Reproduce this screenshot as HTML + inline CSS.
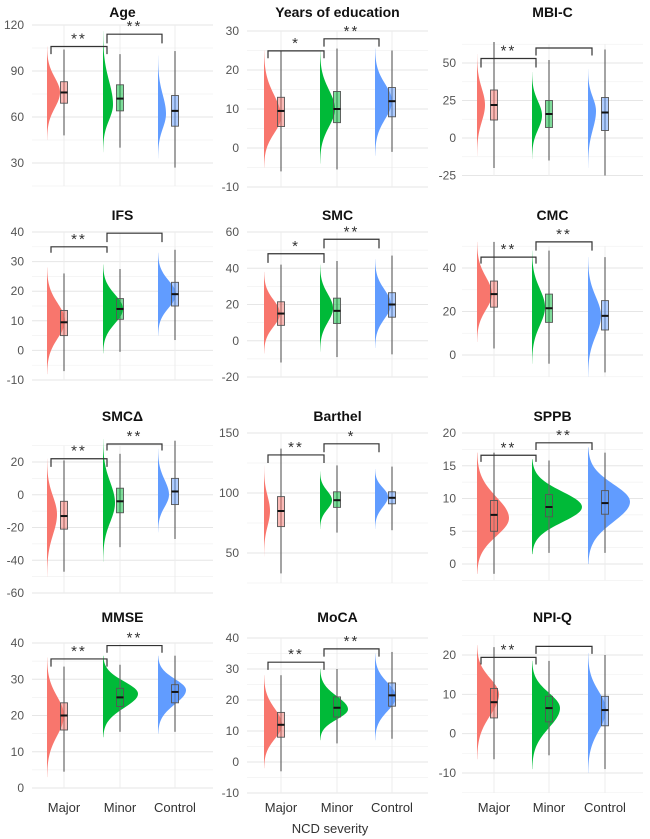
<!DOCTYPE html>
<html><head><meta charset="utf-8">
<style>
html,body{margin:0;padding:0;background:#fff;}
svg{display:block;font-family:"Liberation Sans",sans-serif;}
</style></head>
<body>
<svg id="chart" width="650" height="839" viewBox="0 0 650 839"></svg>
<script>
const categories = ["Major","Minor","Control"];
const titles = ["Age","Years of education","MBI-C","IFS","SMC","CMC","SMC\u0394","Barthel","SPPB","MMSE","MoCA","NPI-Q"];
const tickValues = [[30,60,90,120],[-10,0,10,20,30],[-25,0,25,50],[-10,0,10,20,30,40],[-20,0,20,40,60],[0,20,40],[-60,-40,-20,0,20],[50,100,150],[0,5,10,15,20],[0,10,20,30,40],[-10,0,10,20,30,40],[-10,0,10,20]];
const domains = [[15,120],[-10,30],[-25,62.5],[-10,40],[-20,60],[-10,50],[-60,30],[25,150],[-2.5,20],[0,40],[-10,40],[-15,25]];
const vMin = [[45,37,33],[-5,-4,-2],[-12,-14,-20],[-8,-1,5],[-7,-6,-4],[6,-4,-10],[-50,-41,-23],[47,70,70],[-1.5,1.5,0],[3,14,15],[-2,7,7],[-6.5,-9,-10]];
const vMode = [[76,68,62],[8,10,12],[22,15,18],[10,14,19],[15,18,20],[28,22,18],[-12,-5,0],[85,94,97],[7,8.7,9.5],[20,26,27],[12,17,21],[10,6.5,6]];
const vMax = [[106,116,100],[25,25,25.5],[56,44,46],[28,29,33],[38,42,45],[52,48,45],[22,34,28],[123,118,120],[17,16,17.8],[36,36.5,36.5],[28,30,35],[22.5,18.5,20.5]];
const q1 = [[69,64,54],[5.5,6.5,8],[12,7,5],[5,10.5,15],[8.5,9.5,13],[22,15,11.5],[-21,-11,-6],[72,88,91],[5,7.2,7.6],[16,22.5,23.5],[8,14.5,18],[4,3,2]];
const med = [[76,72,64],[9.5,10,12],[22,16,17],[9.5,14,19],[15,16.5,20],[28,21.5,18],[-13,-4,2],[85,94,96],[7.5,8.7,9.3],[20,25,26.5],[12,17.5,21.5],[8,6.5,6]];
const q3 = [[83,81,74],[13,14.5,15.5],[32,25,27],[13.5,17.5,23],[21.5,23.5,26.5],[34,28,25],[-4,4,10],[97,101,101],[9.7,10.6,11.2],[23.5,27.5,28.5],[16,21,25.5],[11.5,9.5,9.5]];
const wLo = [[48,40,27],[-6,-5.5,-1],[-20,-15,-25],[-7,-0.5,3.5],[-12,-9,-7.5],[3,-4,-8],[-47,-32,-27],[33,67,69],[-1.5,1.7,1.7],[4.5,15.5,15.5],[-3,6,7.5],[-6.5,-5.5,-9]];
const wHi = [[104,101,103],[25,25.5,25],[64,52,59],[26,27.5,34],[42,44,47],[52,48,45],[21,25,33],[137,123,122],[17,15.8,17],[33.5,34,36.5],[28,30,35.5],[22,18.5,20]];
const bracketTop = [[106,114],[24.9,28],[53,60],[35,39.6],[48,56],[45,52],[22,31],[131.7,141],[16.6,18.5],[35.6,39.3],[32.2,36.5],[19.4,22.2]];
const bracketDrop = [[101,108],[23,26],[47,55],[33,36.6],[43,51],[42,48],[17,27],[125,134],[15.6,17.4],[33.5,37.3],[29.7,34],[17.6,20.3]];
const bracketLabel = [["**","**"],["*","**"],["**",""],["**",""],["*","**"],["**","**"],["**","**"],["**","*"],["**","**"],["**","**"],["**","**"],["**",""]];

// layout (pixel calibration, not data)
const colCatX = [[64,120,175],[281,337,392],[494,549,605]];
const colGrid = [[32,213],[247,428],[462,643]];
const colLabelX = [24,239,456];
const tickPix = [[163,25],[187,31],[175.5,63],[380,232],[377,232],[355,268],[593,462],[553,433],[564,433],[788,643],[793,638],[773,655]];
const titleY = [17,17,17,220,220,220,421,421,421,622,622,622];
const vWidth = [[13,10,8],[17,15,17],[8,10,8],[18,20,18],[16,13,16],[15,13,13],[10,12,11],[6,12,13],[32,50,42],[17,35,28],[18,28,21],[22,28,18]];
const fills = ["#F8766D","#00BA38","#619CFF"];
const NS = "http://www.w3.org/2000/svg";
const svg = document.getElementById("chart");
function mk(tag, attrs, parent){const e=document.createElementNS(NS,tag);for(const k in attrs)e.setAttribute(k,attrs[k]);(parent||svg).appendChild(e);return e;}

for(let p=0;p<12;p++){
  const col=p%3;
  const tv=tickValues[p];
  const t0=tv[0], t1=tv[tv.length-1];
  const py0=tickPix[p][0], py1=tickPix[p][1];
  const y=v=>py0+(v-t0)*(py1-py0)/(t1-t0);
  const g=mk("g",{});
  
  
  const [gx0,gx1]=colGrid[col];
  const [d0,d1]=domains[p];
  const step=tv[1]-tv[0];
  for(let v=t0-step;v<=t1+step+1e-9;v+=step/2){
    if(v<d0-1e-9||v>d1+1e-9) continue;
    const isMajor=Math.abs(((v-t0)/step)-Math.round((v-t0)/step))<1e-6;
    const l=mk("line",{x1:gx0,x2:gx1,y1:y(v),y2:y(v),stroke:isMajor?"#e6e6e6":"#f2f2f2","stroke-width":isMajor?1:0.7},g);
    
    
  }
  for(let c=0;c<3;c++){
    const l=mk("line",{x1:colCatX[col][c],x2:colCatX[col][c],y1:y(d1),y2:y(d0),stroke:"#ececec","stroke-width":1},g);
    
    
  }
  tv.forEach(v=>{
    const t=mk("text",{x:colLabelX[col],y:y(v)+4,"text-anchor":"end","font-size":"12",fill:"#555"},g);
    t.textContent=v;
    
    
  });
  const tt=mk("text",{x:(gx0+gx1)/2,y:titleY[p],"text-anchor":"middle","font-size":"14","font-weight":"bold",fill:"#111"},g);
  tt.textContent=titles[p];
  
  
  for(let c=0;c<3;c++){
    const cx=colCatX[col][c];
    const bx=cx-17;
    const mn=vMin[p][c], mo=vMode[p][c], mx=vMax[p][c], W=vWidth[p][c];
    let d="M"+bx+","+y(mn);
    const N=60;
    for(let i=0;i<=N;i++){
      const v=mn+(mx-mn)*i/N;
      const u=v<mo?(mo-v)/(mo-mn):(v-mo)/(mx-mo);
      const w=W*Math.exp(-4.8*u*u);
      d+=" L"+(bx+w).toFixed(2)+","+y(v).toFixed(2);
    }
    d+=" L"+bx+","+y(mx)+" Z";
    const vp=mk("path",{d:d,fill:fills[c]},g);
    
    
    const wl=mk("line",{x1:cx,x2:cx,y1:y(wLo[p][c]),y2:y(wHi[p][c]),stroke:"#666","stroke-width":1.2},g);
    
    
    const br=mk("rect",{x:cx-3.5,y:y(q3[p][c]),width:7,height:y(q1[p][c])-y(q3[p][c]),fill:fills[c],"fill-opacity":0.5,stroke:"#555","stroke-width":0.9},g);
    
    
    const ml=mk("line",{x1:cx-3.5,x2:cx+3.5,y1:y(med[p][c]),y2:y(med[p][c]),stroke:"#111","stroke-width":2},g);
    
    
  }
  for(let b=0;b<2;b++){
    const xa=colCatX[col][b]-13, xb=colCatX[col][b+1]-13;
    const yt=y(bracketTop[p][b]), yd=y(bracketDrop[p][b]);
    const bp=mk("path",{d:"M"+xa+","+yd+" L"+xa+","+yt+" L"+xb+","+yt+" L"+xb+","+yd,fill:"none",stroke:"#333","stroke-width":1.2},g);
    
    
    if(bracketLabel[p][b]){
      const st=mk("text",{x:(xa+xb)/2,y:yt-3,"text-anchor":"middle","font-size":"15",fill:"#333","letter-spacing":"2"},g);
      st.textContent=bracketLabel[p][b];
      
      
    }
  }
  if(p>=9){
    for(let c=0;c<3;c++){
      const cl=mk("text",{x:colCatX[col][c],y:812,"text-anchor":"middle","font-size":"13",fill:"#333"},g);
      cl.textContent=categories[c];
      
      
    }
  }
}
const xt=mk("text",{x:330,y:833,"text-anchor":"middle","font-size":"13",fill:"#333"});
xt.textContent="NCD severity";


</script>
</body></html>
